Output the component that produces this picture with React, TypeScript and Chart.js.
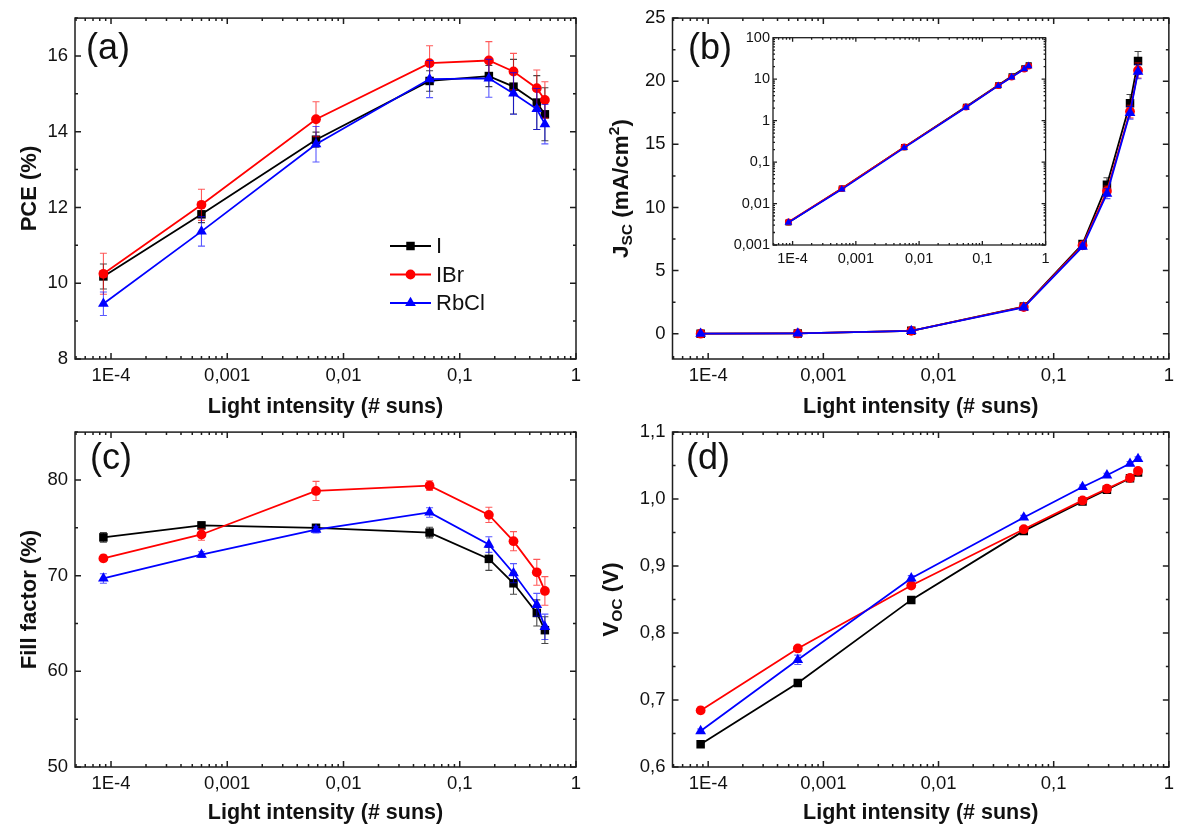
import React, { useEffect, useRef } from 'react';
import { Chart, registerables } from 'chart.js';

Chart.register(...registerables);

// ---- Data -------------------------------------------------------------
// Light intensity of each measurement (# suns)
const intensity = [8.6e-5, 6.0e-4, 5.8e-3, 0.055, 0.178, 0.29, 0.46, 0.54];
const xTickValues = [1e-4, 1e-3, 1e-2, 0.1, 1];
const xTickLabels = ['1E-4', '0,001', '0,01', '0,1', '1'];
const X_MIN = 4.9e-5;
const X_MAX = 1;

const seriesNames = ['I', 'IBr', 'RbCl'];

// Power conversion efficiency (%)
const pceI = [10.18, 11.82, 13.79, 15.34, 15.47, 15.19, 14.77, 14.46];
const pceIBr = [10.25, 12.07, 14.33, 15.81, 15.88, 15.59, 15.15, 14.84];
const pceRbCl = [9.46, 11.37, 13.67, 15.39, 15.41, 15.01, 14.6, 14.2];
const pceErrI = [0.33, 0.22, 0.2, 0.27, 0.28, 0.72, 0.71, 0.7];
const pceErrIBr = [0.54, 0.41, 0.46, 0.46, 0.5, 0.48, 0.48, 0.48];
const pceErrRbCl = [0.31, 0.39, 0.47, 0.49, 0.5, 0.55, 0.54, 0.52];
const pceTicks = [8, 10, 12, 14, 16];
const pceTickLabels = ['8', '10', '12', '14', '16'];

// Short-circuit current density (mA/cm2)
const jscI = [0.0035, 0.023, 0.23, 2.15, 7.1, 11.8, 18.25, 21.6];
const jscIBr = [0.0036, 0.023, 0.23, 2.12, 7.0, 11.3, 17.6, 20.85];
const jscRbCl = [0.0035, 0.022, 0.22, 2.08, 6.9, 11.1, 17.5, 20.75];
const jscErrI = [0, 0, 0.05, 0.12, 0.25, 0.55, 0.7, 0.75];
const jscErrIBr = [0, 0, 0.05, 0.1, 0.2, 0.4, 0.5, 0.6];
const jscErrRbCl = [0, 0, 0.05, 0.1, 0.2, 0.4, 0.5, 0.55];
const jscTicks = [0, 5, 10, 15, 20, 25];
const jscTickLabels = ['0', '5', '10', '15', '20', '25'];
const jscLogTicks = [0.001, 0.01, 0.1, 1, 10, 100];
const jscLogTickLabels = ['0,001', '0,01', '0,1', '1', '10', '100'];

// Fill factor (%)
const ffI = [74.0, 75.25, 75.0, 74.5, 71.75, 69.2, 66.1, 64.3];
const ffIBr = [71.8, 74.3, 78.85, 79.4, 76.35, 73.6, 70.35, 68.4];
const ffRbCl = [69.7, 72.2, 74.8, 76.6, 73.25, 70.25, 66.95, 64.65];
const ffErrI = [0.5, 0.35, 0.3, 0.55, 1.2, 1.15, 1.37, 1.4];
const ffErrIBr = [0.35, 0.6, 1.0, 0.5, 0.8, 1.0, 1.35, 1.5];
const ffErrRbCl = [0.5, 0.3, 0.35, 0.5, 0.82, 1.0, 1.2, 1.33];
const ffTicks = [50, 60, 70, 80];
const ffTickLabels = ['50', '60', '70', '80'];

// Open-circuit voltage (V)
const vocI = [0.634, 0.7255, 0.8495, 0.9525, 0.9965, 1.014, 1.031, 1.0395];
const vocIBr = [0.6845, 0.777, 0.871, 0.955, 0.998, 1.0155, 1.0315, 1.042];
const vocRbCl = [0.6537, 0.76, 0.8817, 0.9726, 1.018, 1.0355, 1.053, 1.06];
const vocErrI = [0.003, 0.003, 0.003, 0.003, 0.003, 0.003, 0.003, 0.003];
const vocErrIBr = [0.005, 0.004, 0.004, 0.003, 0.003, 0.003, 0.003, 0.004];
const vocErrRbCl = [0.003, 0.007, 0.004, 0.003, 0.003, 0.003, 0.003, 0.003];
const vocTicks = [0.6, 0.7, 0.8, 0.9, 1.0, 1.1];
const vocTickLabels = ['0,6', '0,7', '0,8', '0,9', '1,0', '1,1'];

// ---- Styling ----------------------------------------------------------
const FAMILY = '"Liberation Sans", Arial, Helvetica, sans-serif';
const TEXT = '#111111';
const FRAME = '#1e1e1e';

type Marker = 'rect' | 'circle' | 'triangle';
const STYLES: { color: string; err: string; marker: Marker; radius: number }[] = [
  { color: '#000000', err: 'rgba(0,0,0,0.72)', marker: 'rect', radius: 6 },
  { color: '#ff0000', err: 'rgba(255,0,0,0.65)', marker: 'circle', radius: 4.9 },
  { color: '#0000ff', err: 'rgba(0,0,255,0.65)', marker: 'triangle', radius: 6.2 },
];

type Part = { text: string; size: number; shift: number };

interface PanelSpec {
  id: string;
  canvas: { left: number; top: number; width: number; height: number };
  area: { left: number; top: number; right: number; bottom: number };
  yType: 'linear' | 'logarithmic';
  yMin: number;
  yMax: number;
  yTicks: number[];
  yTickLabels: string[];
  yMinorStep?: number;
  series: number[][];
  errors: number[][] | null;
  tickFont: number;
  padX: number;
  padY: number;
  majorLen: number;
  minorLen: number;
  frameWidth: number;
  markerScale: number;
  lineWidth: number;
  panelLabel?: { text: string; x: number; y: number };
  xTitle?: { y: number };
  yTitle?: { x: number; parts: Part[] };
  legend?: { x0: number; x1: number; xt: number; rows: number[] };
}

const PANELS: PanelSpec[] = [
  {
    id: 'a',
    canvas: { left: 0, top: 0, width: 590, height: 424 },
    area: { left: 75, top: 16, right: 576, bottom: 359 },
    yType: 'linear', yMin: 8, yMax: 17, yTicks: pceTicks, yTickLabels: pceTickLabels, yMinorStep: 1,
    series: [pceI, pceIBr, pceRbCl], errors: [pceErrI, pceErrIBr, pceErrRbCl],
    tickFont: 18.5, padX: 6, padY: 7, majorLen: 6, minorLen: 3, frameWidth: 1.5,
    markerScale: 1, lineWidth: 1.8,
    panelLabel: { text: '(a)', x: 86, y: 59 },
    xTitle: { y: 412.5 },
    yTitle: { x: 35.5, parts: [{ text: 'PCE (%)', size: 22, shift: 0 }] },
    legend: { x0: 390, x1: 431, xt: 436, rows: [246, 274.5, 303] },
  },
  {
    id: 'b',
    canvas: { left: 590, top: 0, width: 590, height: 424 },
    area: { left: 82.5, top: 16, right: 583, bottom: 359 },
    yType: 'linear', yMin: -2, yMax: 25, yTicks: jscTicks, yTickLabels: jscTickLabels, yMinorStep: 2.5,
    series: [jscI, jscIBr, jscRbCl], errors: [jscErrI, jscErrIBr, jscErrRbCl],
    tickFont: 18.5, padX: 6, padY: 7, majorLen: 6, minorLen: 3, frameWidth: 1.5,
    markerScale: 1, lineWidth: 1.8,
    panelLabel: { text: '(b)', x: 98, y: 59 },
    xTitle: { y: 412.5 },
    yTitle: {
      x: 37.5,
      parts: [
        { text: 'J', size: 22.5, shift: 0 },
        { text: 'SC', size: 15.5, shift: 4 },
        { text: ' (mA/cm', size: 22.5, shift: 0 },
        { text: '2', size: 15.5, shift: -9 },
        { text: ')', size: 22.5, shift: 0 },
      ],
    },
  },
  {
    id: 'b-inset',
    canvas: { left: 715, top: 26, width: 340, height: 252 },
    area: { left: 58, top: 10, right: 330.6, bottom: 219 },
    yType: 'logarithmic', yMin: 0.001, yMax: 100, yTicks: jscLogTicks, yTickLabels: jscLogTickLabels,
    series: [jscI, jscIBr, jscRbCl], errors: null,
    tickFont: 14.5, padX: 5, padY: 3, majorLen: 4, minorLen: 2, frameWidth: 1.3,
    markerScale: 0.72, lineWidth: 1.7,
  },
  {
    id: 'c',
    canvas: { left: 0, top: 414, width: 590, height: 414 },
    area: { left: 75, top: 12, right: 576, bottom: 353 },
    yType: 'linear', yMin: 50, yMax: 85, yTicks: ffTicks, yTickLabels: ffTickLabels, yMinorStep: 5,
    series: [ffI, ffIBr, ffRbCl], errors: [ffErrI, ffErrIBr, ffErrRbCl],
    tickFont: 18.5, padX: 6, padY: 7, majorLen: 6, minorLen: 3, frameWidth: 1.5,
    markerScale: 1, lineWidth: 1.8,
    panelLabel: { text: '(c)', x: 90, y: 55 },
    xTitle: { y: 405.4 },
    yTitle: { x: 36, parts: [{ text: 'Fill factor (%)', size: 22, shift: 0 }] },
  },
  {
    id: 'd',
    canvas: { left: 590, top: 414, width: 590, height: 414 },
    area: { left: 82.5, top: 12, right: 583, bottom: 353 },
    yType: 'linear', yMin: 0.6, yMax: 1.1, yTicks: vocTicks, yTickLabels: vocTickLabels, yMinorStep: 0.05,
    series: [vocI, vocIBr, vocRbCl], errors: [vocErrI, vocErrIBr, vocErrRbCl],
    tickFont: 18.5, padX: 6, padY: 7, majorLen: 6, minorLen: 3, frameWidth: 1.5,
    markerScale: 1, lineWidth: 1.8,
    panelLabel: { text: '(d)', x: 96, y: 55 },
    xTitle: { y: 405.4 },
    yTitle: {
      x: 28,
      parts: [
        { text: 'V', size: 22.5, shift: 0 },
        { text: 'OC', size: 15.5, shift: 4 },
        { text: ' (V)', size: 22.5, shift: 0 },
      ],
    },
  },
];

// ---- Helpers ----------------------------------------------------------
function logMinors(min: number, max: number): number[] {
  const out: number[] = [];
  for (let d = Math.floor(Math.log10(min)); d <= Math.ceil(Math.log10(max)); d++) {
    for (let k = 2; k <= 9; k++) {
      const v = k * Math.pow(10, d);
      if (v > min && v < max) out.push(v);
    }
  }
  return out;
}

function linearMinors(min: number, max: number, step: number, majors: number[]): number[] {
  const out: number[] = [];
  const start = Math.ceil(min / step - 1e-9);
  const end = Math.floor(max / step + 1e-9);
  for (let k = start; k <= end; k++) {
    const v = Math.round(k * step * 1e6) / 1e6;
    if (!majors.some((m) => Math.abs(m - v) < step * 1e-3)) out.push(v);
  }
  return out;
}

function drawMarker(ctx: CanvasRenderingContext2D, marker: Marker, x: number, y: number, r: number) {
  ctx.beginPath();
  if (marker === 'rect') {
    const s = r * Math.SQRT1_2;
    ctx.rect(x - s, y - s, 2 * s, 2 * s);
  } else if (marker === 'circle') {
    ctx.arc(x, y, r, 0, Math.PI * 2);
  } else {
    ctx.moveTo(x, y - r);
    ctx.lineTo(x + r * Math.sin((2 * Math.PI) / 3), y + r * 0.5);
    ctx.lineTo(x - r * Math.sin((2 * Math.PI) / 3), y + r * 0.5);
    ctx.closePath();
  }
  ctx.fill();
}

// Vertical error bars, drawn just before each dataset so its markers sit on top.
const errorBarPlugin = {
  id: 'errorBars',
  beforeDatasetDraw(chart: any, args: any) {
    const ds = chart.data.datasets[args.index];
    if (!ds.errors) return;
    const { ctx } = chart;
    const xs = chart.scales.x;
    const ys = chart.scales.y;
    ctx.save();
    ctx.strokeStyle = ds.errorColor;
    ctx.lineWidth = 1.1;
    ds.data.forEach((p: { x: number; y: number }, j: number) => {
      const e = ds.errors[j];
      if (!e) return;
      const px = xs.getPixelForValue(p.x);
      const top = ys.getPixelForValue(p.y + e);
      const bot = ys.getPixelForValue(p.y - e);
      ctx.beginPath();
      ctx.moveTo(px, top);
      ctx.lineTo(px, bot);
      ctx.moveTo(px - 3.5, top);
      ctx.lineTo(px + 3.5, top);
      ctx.moveTo(px - 3.5, bot);
      ctx.lineTo(px + 3.5, bot);
      ctx.stroke();
    });
    ctx.restore();
  },
};

// Frame with inward ticks on all four sides, titles, panel tag and legend.
function makeDecor(spec: PanelSpec) {
  return {
    id: 'decor',
    afterDraw(chart: any) {
      const { ctx, chartArea: a } = chart;
      const xs = chart.scales.x;
      const ys = chart.scales.y;
      ctx.save();
      ctx.strokeStyle = FRAME;
      ctx.lineWidth = spec.frameWidth;
      ctx.beginPath();
      const xTick = (v: number, len: number) => {
        const px = xs.getPixelForValue(v);
        ctx.moveTo(px, a.bottom);
        ctx.lineTo(px, a.bottom - len);
        ctx.moveTo(px, a.top);
        ctx.lineTo(px, a.top + len);
      };
      const yTick = (v: number, len: number) => {
        const py = ys.getPixelForValue(v);
        ctx.moveTo(a.left, py);
        ctx.lineTo(a.left + len, py);
        ctx.moveTo(a.right, py);
        ctx.lineTo(a.right - len, py);
      };
      xTickValues.forEach((v) => xTick(v, spec.majorLen));
      logMinors(X_MIN, X_MAX).forEach((v) => xTick(v, spec.minorLen));
      spec.yTicks.forEach((v) => yTick(v, spec.majorLen));
      const yMinor =
        spec.yType === 'logarithmic'
          ? logMinors(spec.yMin, spec.yMax)
          : linearMinors(spec.yMin, spec.yMax, spec.yMinorStep || 1, spec.yTicks);
      yMinor.forEach((v) => yTick(v, spec.minorLen));
      ctx.stroke();
      ctx.strokeRect(a.left, a.top, a.right - a.left, a.bottom - a.top);

      ctx.fillStyle = TEXT;
      if (spec.panelLabel) {
        ctx.font = `36px ${FAMILY}`;
        ctx.textAlign = 'left';
        ctx.textBaseline = 'alphabetic';
        ctx.fillText(spec.panelLabel.text, spec.panelLabel.x, spec.panelLabel.y);
      }
      if (spec.xTitle) {
        ctx.font = `bold 21.5px ${FAMILY}`;
        ctx.textAlign = 'center';
        ctx.textBaseline = 'alphabetic';
        ctx.fillText('Light intensity (# suns)', (a.left + a.right) / 2, spec.xTitle.y);
      }
      if (spec.yTitle) {
        const parts = spec.yTitle.parts;
        let total = 0;
        const widths = parts.map((p) => {
          ctx.font = `bold ${p.size}px ${FAMILY}`;
          const w = ctx.measureText(p.text).width;
          total += w;
          return w;
        });
        ctx.save();
        ctx.translate(spec.yTitle.x, (a.top + a.bottom) / 2);
        ctx.rotate(-Math.PI / 2);
        ctx.textAlign = 'left';
        ctx.textBaseline = 'alphabetic';
        let x = -total / 2;
        parts.forEach((p, i) => {
          ctx.font = `bold ${p.size}px ${FAMILY}`;
          ctx.fillText(p.text, x, p.shift);
          x += widths[i];
        });
        ctx.restore();
      }
      if (spec.legend) {
        const lg = spec.legend;
        seriesNames.forEach((name, i) => {
          const st = STYLES[i];
          const y = lg.rows[i];
          ctx.strokeStyle = st.color;
          ctx.lineWidth = spec.lineWidth;
          ctx.beginPath();
          ctx.moveTo(lg.x0, y);
          ctx.lineTo(lg.x1, y);
          ctx.stroke();
          ctx.fillStyle = st.color;
          drawMarker(ctx, st.marker, (lg.x0 + lg.x1) / 2, y, st.radius);
          ctx.fillStyle = TEXT;
          ctx.font = `22px ${FAMILY}`;
          ctx.textAlign = 'left';
          ctx.textBaseline = 'middle';
          ctx.fillText(name, lg.xt, y + 1);
        });
      }
      ctx.restore();
    },
  };
}

function buildConfig(spec: PanelSpec): any {
  const datasets = spec.series.map((vals, i) => {
    const st = STYLES[i];
    return {
      label: seriesNames[i],
      data: intensity.map((x, j) => ({ x, y: vals[j] })),
      errors: spec.errors ? spec.errors[i] : null,
      errorColor: st.err,
      borderColor: st.color,
      backgroundColor: st.color,
      pointBackgroundColor: st.color,
      pointBorderColor: st.color,
      pointBorderWidth: 0,
      pointStyle: st.marker,
      pointRadius: st.radius * spec.markerScale,
      borderWidth: spec.lineWidth,
      tension: 0,
      order: 3 - i,
    };
  });
  const tickFont = { family: FAMILY, size: spec.tickFont };
  return {
    type: 'line',
    data: { datasets },
    options: {
      responsive: false,
      maintainAspectRatio: false,
      animation: false,
      events: [],
      layout: {
        padding: { left: 0, top: spec.area.top, right: spec.canvas.width - spec.area.right, bottom: 0 },
      },
      plugins: { legend: { display: false }, tooltip: { enabled: false } },
      scales: {
        x: {
          type: 'logarithmic',
          min: X_MIN,
          max: X_MAX,
          bounds: 'data',
          grid: { display: false, drawTicks: false },
          border: { display: false },
          afterBuildTicks: (s: any) => {
            s.ticks = xTickValues.map((v) => ({ value: v }));
          },
          afterFit: (s: any) => {
            s.height = spec.canvas.height - spec.area.bottom;
          },
          ticks: {
            autoSkip: false,
            maxRotation: 0,
            minRotation: 0,
            padding: spec.padX,
            color: TEXT,
            font: tickFont,
            callback: (_v: number, i: number) => xTickLabels[i],
          },
        },
        y: {
          type: spec.yType,
          min: spec.yMin,
          max: spec.yMax,
          bounds: 'data',
          grid: { display: false, drawTicks: false },
          border: { display: false },
          afterBuildTicks: (s: any) => {
            s.ticks = spec.yTicks.map((v) => ({ value: v }));
          },
          afterFit: (s: any) => {
            s.width = spec.area.left;
          },
          ticks: {
            autoSkip: false,
            padding: spec.padY,
            color: TEXT,
            font: tickFont,
            callback: (_v: number, i: number) => spec.yTickLabels[i],
          },
        },
      },
    },
    plugins: [errorBarPlugin, makeDecor(spec)],
  };
}

function Panel({ spec }: { spec: PanelSpec }) {
  const ref = useRef<HTMLCanvasElement>(null);
  useEffect(() => {
    if (!ref.current) return;
    const chart = new Chart(ref.current, buildConfig(spec));
    return () => chart.destroy();
  }, [spec]);
  const c = spec.canvas;
  return (
    <canvas
      ref={ref}
      width={c.width}
      height={c.height}
      style={{ position: 'absolute', left: c.left, top: c.top, width: c.width, height: c.height }}
    />
  );
}

export default function App() {
  return (
    <div
      style={{
        position: 'absolute',
        left: 0,
        top: 0,
        width: 1180,
        height: 828,
        background: '#ffffff',
        overflow: 'hidden',
      }}
    >
      {PANELS.map((p) => (
        <Panel key={p.id} spec={p} />
      ))}
    </div>
  );
}
